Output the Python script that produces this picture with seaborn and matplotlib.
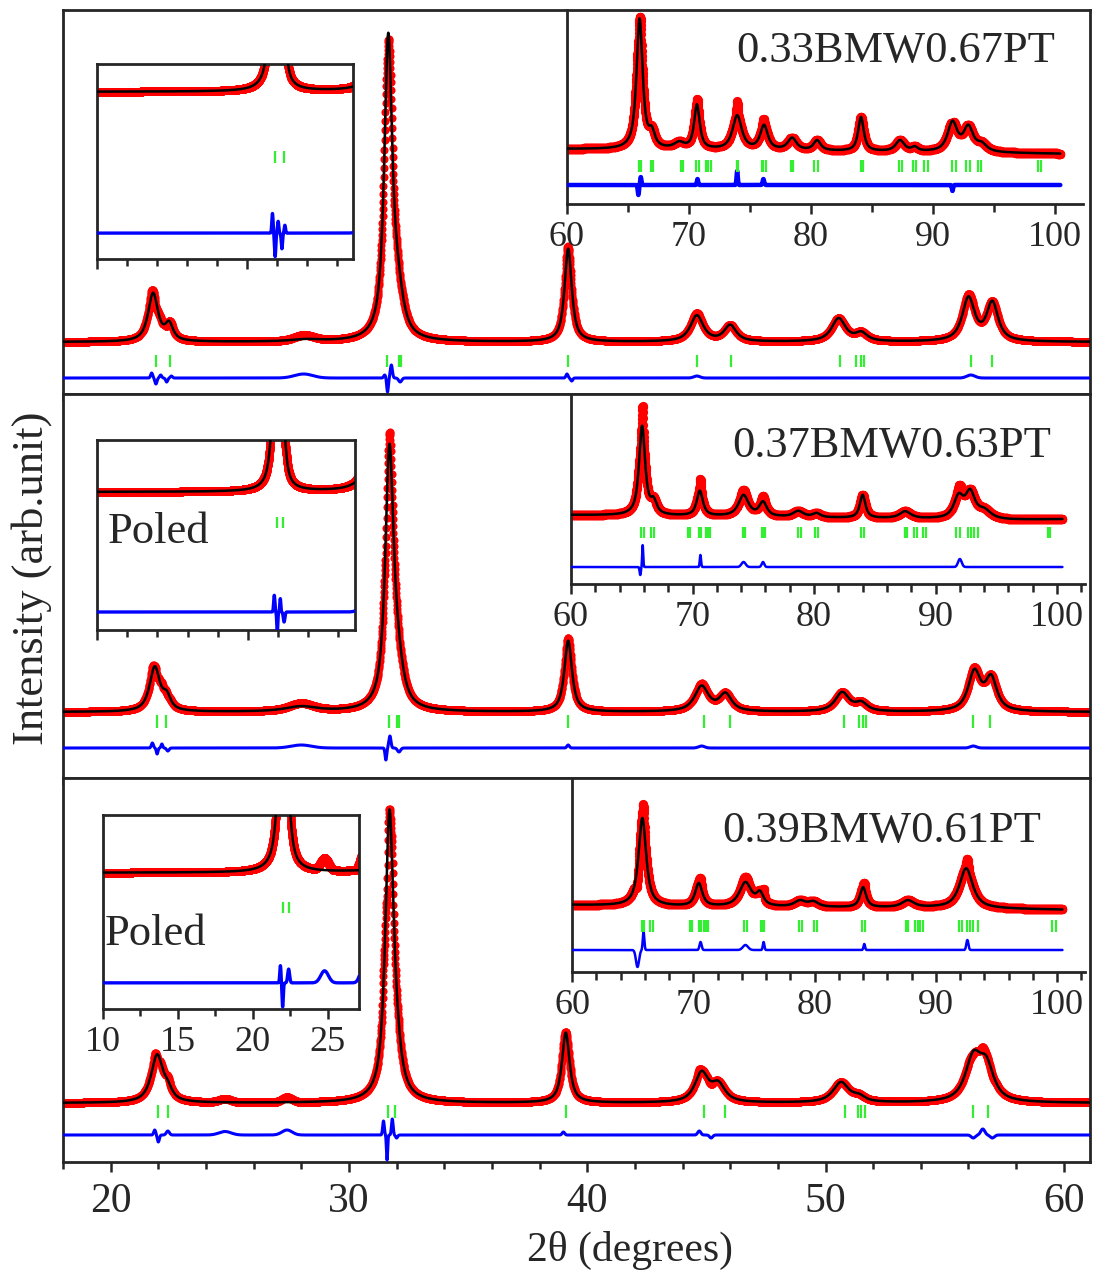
import numpy as np
import pandas as pd
import matplotlib
matplotlib.use("Agg")
import matplotlib.pyplot as plt
import seaborn as sns
from matplotlib.ticker import MultipleLocator, NullFormatter

# ------------------------------------------------------------------
# DATA: peak tables (position, height, FWHM)
# intensities in arbitrary units of each panel
# ------------------------------------------------------------------
SAMPLES = ["0.33BMW0.67PT", "0.37BMW0.63PT", "0.39BMW0.61PT"]

# ---- main range (10-61 deg) ----
S1_bg = 52
S1_pos = [21.78, 22.45, 28.2, 31.65, 32.05, 39.2, 44.6, 46.0, 50.55, 51.5, 56.0, 57.0]
S1_amp = [48, 16, 2, 298, 36, 93, 26, 16, 23, 8, 43, 38]
S1_fw = [0.5, 0.4, 1.5, 0.4, 0.55, 0.36, 0.65, 0.6, 0.7, 0.6, 0.62, 0.58]
S1_dpos = [21.72, 21.9, 22.1, 22.35, 22.55, 28.1, 31.5, 31.62, 31.78, 32.15, 39.15, 39.35, 44.6, 56.1]
S1_damp = [5, -6, 3, -4, 2, 4, 3, -14, 13, -4, 4, -3, 2, 3]
S1_dw = [0.1, 0.1, 0.1, 0.1, 0.1, 0.9, 0.1, 0.08, 0.1, 0.15, 0.1, 0.1, 0.3, 0.4]
S1_ticks = [21.9, 22.5, 31.6, 32.1, 32.2, 39.2, 44.6, 46.05, 50.6, 51.3, 51.5, 51.6, 56.1, 57.0]

S2_bg = 66
S2_pos = [21.85, 22.35, 28.0, 31.7, 32.05, 39.2, 44.8, 45.8, 50.7, 51.5, 56.25, 56.95]
S2_amp = [44, 13, 5, 256, 32, 71, 25, 17, 19, 8, 39, 32]
S2_fw = [0.52, 0.4, 1.6, 0.42, 0.55, 0.38, 0.7, 0.62, 0.7, 0.6, 0.62, 0.58]
S2_dpos = [21.75, 21.95, 22.15, 22.4, 28.0, 31.55, 31.72, 32.1, 39.2, 44.8, 56.2]
S2_damp = [5, -6, 4, -3, 3, -12, 12, -4, 3, 2, 2]
S2_dw = [0.1, 0.08, 0.08, 0.12, 1.0, 0.08, 0.1, 0.15, 0.12, 0.3, 0.3]
S2_ticks = [21.95, 22.33, 31.7, 32.03, 32.12, 39.2, 44.9, 45.98, 50.77, 51.4, 51.57, 51.7, 56.2, 56.9]

S3_bg = 59
S3_pos = [21.95, 22.4, 31.7, 32.0, 39.1, 44.8, 45.5, 50.65, 51.4, 56.2, 56.75]
S3_amp = [47, 9, 283, 26, 70, 29, 17, 20, 5, 42, 33]
S3_fw = [0.6, 0.45, 0.42, 0.5, 0.38, 0.68, 0.68, 0.8, 0.6, 0.8, 0.75]
S3_dpos = [21.85, 22.0, 22.4, 24.8, 27.4, 31.45, 31.6, 31.82, 32.0, 39.0, 44.7, 45.2, 56.2, 56.6, 57.0]
S3_damp = [5, -7, 4, 3.5, 5, 14, -25, 16, -3, 3, 4, -3, -3, 6, -3]
S3_dw = [0.1, 0.1, 0.15, 0.6, 0.5, 0.08, 0.06, 0.08, 0.1, 0.12, 0.15, 0.15, 0.2, 0.2, 0.2]
S3_ticks = [22.0, 22.4, 31.65, 31.95, 39.1, 44.9, 45.8, 50.8, 51.35, 51.5, 51.65, 56.2, 56.8]

# ---- high-angle insets (60-101 deg) ----
H1_bgx = [60, 80, 102]
H1_bgy = [55, 53, 50]
H1_pos = [65.95, 66.95, 69.2, 70.65, 73.95, 76.15, 78.45, 80.5, 84.1, 87.3, 88.5, 91.6, 92.9, 94.0]
H1_amp = [130, 14, 6, 44, 34, 24, 12, 10, 34, 11, 4, 29, 24, 7]
H1_fw = [0.6, 0.6, 1.0, 0.55, 0.9, 0.75, 0.85, 0.7, 0.55, 0.85, 0.6, 0.95, 0.95, 1.0]
H1_dpos = [65.85, 66.05, 70.7, 73.95, 76.1, 91.6]
H1_damp = [-10, 8, 6, 14, 6, -6]
H1_dw = [0.12, 0.12, 0.12, 0.12, 0.15, 0.12]
H1_ticks = [65.88, 66.07, 66.9, 67.06, 69.34, 69.5, 70.6, 70.8, 71.4, 71.56, 71.8, 73.9, 74.05,
            75.96, 76.1, 76.3, 78.4, 78.55, 80.25, 80.6, 84.07, 84.27, 87.25, 87.45, 88.4, 88.6,
            89.3, 89.6, 91.55, 91.85, 92.7, 93.0, 93.7, 93.9, 98.6, 98.85]

H2_bgx = [60, 68, 96, 102]
H2_bgy = [69, 68, 64, 65]
H2_pos = [65.85, 66.8, 70.6, 74.2, 75.8, 78.7, 80.2, 84.0, 87.5, 91.9, 92.85, 94.0]
H2_amp = [89, 12, 25, 21, 14, 6, 4, 23, 7, 21, 25, 8]
H2_fw = [0.6, 0.6, 0.6, 1.0, 0.75, 1.0, 0.75, 0.55, 1.1, 0.95, 0.95, 1.3]
H2_dpos = [65.7, 65.9, 70.65, 74.2, 75.8, 92.0]
H2_damp = [-8, 22, 12, 5, 5, 8]
H2_dw = [0.12, 0.1, 0.12, 0.4, 0.25, 0.35]
H2_ticks = [65.79, 65.98, 66.62, 66.79, 69.64, 69.8, 70.53, 70.72, 71.09, 71.25, 71.45, 74.16,
            74.35, 75.69, 75.82, 75.97, 78.7, 78.9, 80.07, 80.29, 83.85, 84.13, 87.48, 87.67,
            88.23, 88.5, 88.93, 89.2, 91.72, 92.0, 92.7, 92.88, 93.16, 93.52, 99.25, 99.43]

H3_bgx = [60, 70, 90, 102]
H3_bgy = [67, 65, 64, 62]
H3_pos = [65.8, 70.45, 74.3, 75.5, 78.8, 79.9, 84.0, 87.7, 92.5]
H3_amp = [88, 23, 24, 12, 6, 5, 20, 7, 40]
H3_fw = [0.75, 0.7, 1.2, 0.7, 1.1, 1.0, 0.6, 1.2, 1.3]
H3_dpos = [65.4, 65.9, 70.6, 74.3, 75.8, 84.1, 92.6]
H3_damp = [-17, 18, 8, 5, 8, 6, 10]
H3_dw = [0.3, 0.15, 0.2, 0.5, 0.15, 0.15, 0.2]
H3_ticks = [65.75, 65.95, 66.45, 66.65, 69.72, 69.86, 70.47, 70.64, 70.92, 71.06, 71.25, 74.18,
            74.4, 75.58, 75.72, 75.86, 78.73, 78.96, 79.96, 80.19, 83.9, 84.15, 87.5, 87.73,
            88.28, 88.5, 88.7, 88.98, 91.9, 92.14, 92.6, 92.81, 93.03, 93.45, 99.6, 99.87]

# ------------------------------------------------------------------
RED, BLUE, GREEN = "#ff0000", "#0000ff", "#33ee33"
W, H = 1093, 1276

sns.set_style("ticks")
plt.rcParams["font.family"] = ["Liberation Serif", "DejaVu Serif"]
plt.rcParams["axes.linewidth"] = 2.0

fig = plt.figure(figsize=(W / 100, H / 100), dpi=100)


def add_px(l, t, r, b):
    return fig.add_axes([l / W, 1 - b / H, (r - l) / W, (b - t) / H])


def pv(x, pos, amp, fw, eta=0.85):
    y = np.zeros_like(x)
    for c, a, w in zip(pos, amp, fw):
        d = (x - c) / w
        y += a * (eta / (1 + 4 * d ** 2) + (1 - eta) * np.exp(-4 * np.log(2) * d ** 2))
    return y


def draw(ax, x, calc, diff, doff, ticks, ty0, ty1, s=30, blw=2.0):
    obs = calc + diff
    df = pd.DataFrame({"x": x, "obs": obs, "calc": calc, "diff": diff + doff})
    sns.scatterplot(data=df, x="x", y="obs", ax=ax, s=s, color=RED, linewidth=0,
                    legend=False, zorder=2)
    sns.lineplot(data=df, x="x", y="calc", ax=ax, color="black", lw=1.8,
                 estimator=None, sort=False, zorder=3)
    sns.lineplot(data=df, x="x", y="diff", ax=ax, color=BLUE, lw=blw,
                 estimator=None, sort=False, zorder=3)
    ax.vlines(ticks, ty0, ty1, color=GREEN, lw=1.6, zorder=3)
    ax.set_xlabel("")
    ax.set_ylabel("")
    ax.set_yticks([])


main_sets = [
    (S1_bg, S1_pos, S1_amp, S1_fw, S1_dpos, S1_damp, S1_dw, S1_ticks, 16, (27, 39), (9.4, 59.1), (33.9, 36.9)),
    (S2_bg, S2_pos, S2_amp, S2_fw, S2_dpos, S2_damp, S2_dw, S2_ticks, 30, (50, 63), (24.6, 81.6), (55.2, 58.5)),
    (S3_bg, S3_pos, S3_amp, S3_fw, S3_dpos, S3_damp, S3_dw, S3_ticks, 27, (44, 57), (19.4, 75.8), (47.3, 50.5)),
]
hi_sets = [
    (H1_bgx, H1_bgy, H1_pos, H1_amp, H1_fw, H1_dpos, H1_damp, H1_dw, H1_ticks, 19, (32, 44), 194, 5, 3.2),
    (H2_bgx, H2_bgy, H2_pos, H2_amp, H2_fw, H2_dpos, H2_damp, H2_dw, H2_ticks, 17, (46, 57), 190, 2, 1.8),
    (H3_bgx, H3_bgy, H3_pos, H3_amp, H3_fw, H3_dpos, H3_damp, H3_dw, H3_ticks, 22, (40, 52), 194, 2, 1.8),
]

main_px = [(63, 10, 1090, 394), (63, 394, 1090, 778), (63, 778, 1090, 1162)]
low_px = [(97, 64, 353, 259), (97, 440, 355, 630), (103, 815, 359, 1009)]
hi_px = [(567, 10, 1083, 204), (571, 394, 1085, 584), (572, 778, 1085, 972)]
name_pos = [(1055, 62), (1051, 457), (1041, 842)]
poled_pos = [None, (108, 543), (105, 945)]

xm = np.arange(10, 61.2, 0.01)
xh = np.arange(60, 100.45, 0.015)

for i in range(3):
    bg, pos, amp, fw, dpos, damp, dw, ticks, doff, ty, lowlim, lowty = main_sets[i]
    calc = bg + pv(xm, pos, amp, fw)
    diff = pv(xm, dpos, damp, dw, eta=0.0)

    ax = add_px(*main_px[i])
    sel = xm >= 17.9
    draw(ax, xm[sel], calc[sel], diff[sel], doff, ticks, ty[0], ty[1], s=34, blw=2.2)
    ax.set_xlim(18, 61.1)
    ax.set_ylim(0, 384)
    ax.xaxis.set_major_locator(MultipleLocator(10))
    ax.xaxis.set_minor_locator(MultipleLocator(2))
    ax.tick_params(axis="x", which="major", direction="out", length=7, width=1.8,
                   labelsize=30, pad=8)
    ax.tick_params(axis="x", which="minor", direction="out", length=5, width=1.8)
    if i < 2:
        ax.xaxis.set_major_formatter(NullFormatter())
    for sp in ax.spines.values():
        sp.set_visible(True)
        sp.set_linewidth(2.0)

for i in range(3):
    bg, pos, amp, fw, dpos, damp, dw, ticks, doff, ty, lowlim, lowty = main_sets[i]
    calc = bg + pv(xm, pos, amp, fw)
    diff = pv(xm, dpos, damp, dw, eta=0.0)
    # low-angle inset (same pattern, magnified)
    ax = add_px(*low_px[i])
    sel = xm <= 27.3
    draw(ax, xm[sel], calc[sel], diff[sel], doff, [t for t in ticks if t < 27],
         lowty[0], lowty[1], s=40, blw=2.4)
    ax.set_xlim(10, 27.1)
    ax.set_ylim(*lowlim)
    ax.set_facecolor("white")
    if i < 2:
        ax.xaxis.set_major_locator(MultipleLocator(10))
        ax.xaxis.set_minor_locator(MultipleLocator(2))
        ax.xaxis.set_major_formatter(NullFormatter())
    else:
        ax.xaxis.set_major_locator(MultipleLocator(5))
        ax.xaxis.set_minor_locator(MultipleLocator(2.5))
    ax.tick_params(axis="x", which="major", direction="out", length=7, width=1.8,
                   labelsize=26, pad=5)
    ax.tick_params(axis="x", which="minor", direction="out", length=5, width=1.8)
    for sp in ax.spines.values():
        sp.set_linewidth(2.0)
    if poled_pos[i] is not None:
        px, py = poled_pos[i]
        fig.text(px / W, 1 - py / H, "Poled", fontsize=32, ha="left", va="baseline")

    # high-angle inset
    bgx, bgy, hpos, hamp, hfw, hdpos, hdamp, hdw, hticks, hdoff, hty, hh, minor, blw = hi_sets[i]
    hcalc = np.interp(xh, bgx, bgy) + pv(xh, hpos, hamp, hfw)
    hdiff = pv(xh, hdpos, hdamp, hdw, eta=0.0)
    ax = add_px(*hi_px[i])
    draw(ax, xh, hcalc, hdiff, hdoff, hticks, hty[0], hty[1], s=44, blw=blw)
    ax.set_xlim(60, 102.3)
    ax.set_ylim(0, hh)
    ax.set_facecolor("none")
    ax.xaxis.set_major_locator(MultipleLocator(10))
    ax.xaxis.set_minor_locator(MultipleLocator(minor))
    ax.tick_params(axis="x", which="major", direction="out", length=7, width=1.8,
                   labelsize=26, pad=5)
    ax.tick_params(axis="x", which="minor", direction="out", length=6, width=1.8)
    ax.spines["top"].set_visible(False)
    ax.spines["right"].set_visible(False)
    ax.spines["left"].set_linewidth(2.0)
    ax.spines["bottom"].set_linewidth(2.0)
    nx, ny = name_pos[i]
    fig.text(nx / W, 1 - ny / H, SAMPLES[i], fontsize=32, ha="right", va="baseline")

fig.text(32 / W, 1 - 578 / H, "Intensity (arb.unit)", rotation=90, fontsize=32,
         ha="center", va="center")
fig.text(630 / W, 1 - 1250 / H, "2θ (degrees)", fontsize=30, ha="center", va="center")

fig.savefig("out.png", dpi=100)
